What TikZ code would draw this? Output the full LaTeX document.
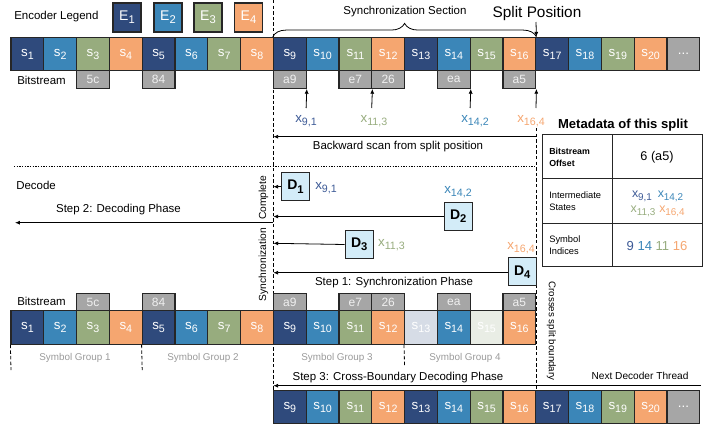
\documentclass[tikz,border=0pt]{standalone}
\usepackage{fontspec}
\usepackage{graphicx}
\setmainfont{Liberation Sans}
\usetikzlibrary{arrows.meta,decorations.pathreplacing}
\definecolor{c0}{HTML}{2F4A7C}
\definecolor{c1}{HTML}{3B86B8}
\definecolor{c2}{HTML}{97AC7E}
\definecolor{c3}{HTML}{F5A670}
\definecolor{cgray}{HTML}{A6A6A6}
\definecolor{cdfill}{HTML}{D3ECF8}
\definecolor{cxnavy}{HTML}{3D5A96}
\definecolor{cfade0}{HTML}{D6DCE6}
\definecolor{cfade2}{HTML}{E9EDE5}
\definecolor{cgrp}{HTML}{9A9A9A}
\newcommand{\sbx}[1]{\raisebox{-0.42ex}{\scalebox{0.8}{#1}}}
\begin{document}
\begin{tikzpicture}[x=0.75pt,y=-0.75pt,
  cell/.style={draw=black!85, line width=0.9pt, minimum width=24.6pt, minimum height=25pt, inner sep=0pt, text=white, font=\fontsize{10}{11}\selectfont},
  tag/.style={draw=black!85, line width=0.9pt, fill=cgray, minimum width=24.6pt, minimum height=13.2pt, inner sep=0pt, text=white!94!black, font=\fontsize{9}{10}\selectfont},
  leg/.style={draw=black!85, line width=0.9pt, minimum width=21pt, minimum height=21.75pt, inner sep=0pt, text=white, font=\fontsize{10.5}{11}\selectfont},
  dbox/.style={draw=black!85, line width=0.9pt, fill=cdfill, minimum size=21pt, inner sep=0pt, font=\bfseries\fontsize{10.5}{11}\selectfont},
  lbl/.style={inner sep=0pt, font=\fontsize{8.6}{10}\selectfont},
  xl/.style={inner sep=0pt, font=\fontsize{10}{11}\selectfont},
  grp/.style={inner sep=0pt, text=cgrp, font=\fontsize{7.4}{9}\selectfont},
  tbl/.style={inner sep=0pt, align=left, font=\fontsize{7}{9}\selectfont},
  arr/.style={-{Latex[length=3.6pt,width=3pt]}, line width=0.6pt},
  vdash/.style={line width=0.6pt, dash pattern=on 2.6pt off 1.6pt},
  hdot/.style={line width=0.6pt, dash pattern=on 1pt off 1pt}
]
\useasboundingbox (0,0) rectangle (706,425);

% long dashed lines (drawn first, under the cells)
\coordinate (vl1) at (273.3,0);
\coordinate (vl2) at (273.3,390.7);
\draw[vdash] (vl1) -- (vl2);
\coordinate (vs1) at (536,128);
\coordinate (vs2) at (536,390.7);
\draw[vdash] (vs1) -- (vs2);
\coordinate (hl1) at (14,166.7);
\coordinate (hl2) at (536,166.7);
\draw[hdot] (hl1) -- (hl2);

% legend
\node[lbl, anchor=west] (encleg) at (14,17) {Encoder Legend};
\node[leg, fill=c0] (E1) at (127,17.5) {E\sbx{1}};
\node[leg, fill=c1] (E2) at (168,17.5) {E\sbx{2}};
\node[leg, fill=c2] (E3) at (208,17.5) {E\sbx{3}};
\node[leg, fill=c3] (E4) at (248.5,17.5) {E\sbx{4}};

% top row
\foreach \i in {1,...,20}{
  \pgfmathsetmacro{\cx}{11+(\i-0.5)*32.8}
  \pgfmathtruncatemacro{\m}{mod(\i-1,4)}
  \node[cell, fill=c\m] (t\i) at (\cx,54) {s\sbx{\i}};
}
\node[cell, fill=cgray] (t21) at ({11+20.5*32.8},54) {...};

\node[lbl, anchor=west] (bst) at (17,80) {Bitstream};
\foreach \i/\t in {3/5c,5/84,9/a9,11/e7,12/26,14/ea,16/a5}
  \node[tag] (tt\i) at ({11+(\i-0.5)*32.8},79.5) {\t};

% brace and split
\draw[decorate, decoration={brace, amplitude=10pt, aspect=0.5}, line width=0.6pt] (t9.north west) -- (t16.north east);
\node[lbl] (syncsec) at (405,12) {Synchronization Section};
\node[inner sep=0pt, font=\fontsize{11.5}{13}\selectfont] (split) at (537,14) {Split Position};
\coordinate (sp) at (536,22);
\draw[arr] (sp) -- (t16.north east);

% up arrows
\coordinate (u1) at (306.1,108);
\coordinate (u2) at (371.7,108);
\coordinate (u3) at (470.1,108);
\coordinate (u4) at (536,108);
\draw[arr] (u1) -- (tt9.south east);
\draw[arr] (u2) -- (tt11.south east);
\draw[arr] (u3) -- (tt14.south east);
\draw[arr] (u4) -- (tt16.south east);
\node[xl, text=cxnavy] (x91) at (306,121) {x\sbx{9,1}};
\node[xl, text=c2] (x113) at (374,121) {x\sbx{11,3}};
\node[xl, text=c1] (x142) at (475,121) {x\sbx{14,2}};
\node[xl, text=c3] (x164) at (531,121) {x\sbx{16,4}};

% backward scan
\coordinate (bs1) at (536,136.7);
\coordinate (bs2) at (273.3,136.7);
\draw[arr] (bs1) -- (bs2);
\node[lbl] (bscan) at (398,147) {Backward scan from split position};

% decode section
\node[lbl, anchor=west] (decode) at (16,185) {Decode};
\node[dbox] (D1) at (295.5,186.7) {D\sbx{1}};
\node[dbox] (D2) at (458.2,216.5) {D\sbx{2}};
\node[dbox] (D3) at (359.3,244.5) {D\sbx{3}};
\node[dbox] (D4) at (522.2,271.8) {D\sbx{4}};
\coordinate (e1) at (273.3,186.7);
\coordinate (e2) at (273.3,216.5);
\coordinate (e3) at (273.3,243.3);
\coordinate (e4) at (273.3,272.7);
\draw[arr] (D1.west) -- (e1);
\draw[arr] (D2.west) -- (e2);
\draw[arr] (D3.west) -- (e3);
\draw[arr] (D4.west |- e4) -- (e4);
\node[xl, text=cxnavy] (dx91) at (326,188) {x\sbx{9,1}};
\node[xl, text=c1] (dx142) at (458,192.5) {x\sbx{14,2}};
\node[xl, text=c2] (dx113) at (391.5,245) {x\sbx{11,3}};
\node[xl, text=c3] (dx164) at (521,248) {x\sbx{16,4}};
\node[lbl] (step1) at (394,282.7) {Step 1: Synchronization Phase};

\node[lbl] (step2) at (118.5,210) {Step 2: Decoding Phase};
\coordinate (s2a) at (273.3,222.7);
\coordinate (s2b) at (15,222.7);
\draw[arr] (s2a) -- (s2b);
\node[inner sep=0pt, rotate=90, font=\fontsize{7.7}{9}\selectfont] (synccomp) at (263.5,238.5) {Synchronization\hspace{6pt}Complete};

% metadata table
\node[inner sep=0pt, font=\bfseries\fontsize{9.8}{11}\selectfont] (mtitle) at (623,125) {Metadata of this split};
\draw[line width=0.9pt, draw=black!85] (542.7,134.3) rectangle (702.3,266.7);
\draw[line width=0.9pt, draw=black!85] (612.3,134.3) -- (612.3,266.7);
\draw[line width=0.9pt, draw=black!85] (542.7,178.7) -- (702.3,178.7);
\draw[line width=0.9pt, draw=black!85] (542.7,223.3) -- (702.3,223.3);
\node[tbl, anchor=west, font=\bfseries\fontsize{6.6}{8.6}\selectfont] (toff) at (549,157.5) {Bitstream\\Offset};
\node[inner sep=0pt, font=\fontsize{9.5}{11}\selectfont] (voff) at (657,157) {6 (a5)};
\node[tbl, anchor=west] (tstate) at (549,201.5) {Intermediate\\States};
\node[xl, text=cxnavy, font=\fontsize{9.3}{10}\selectfont] (m91) at (642,196.5) {x\sbx{9,1}};
\node[xl, text=c1, font=\fontsize{9.3}{10}\selectfont] (m142) at (670.5,196.5) {x\sbx{14,2}};
\node[xl, text=c2, font=\fontsize{9.3}{10}\selectfont] (m113) at (643,211) {x\sbx{11,3}};
\node[xl, text=c3, font=\fontsize{9.3}{10}\selectfont] (m164) at (672,211) {x\sbx{16,4}};
\node[tbl, anchor=west] (tsym) at (549,245.5) {Symbol\\Indices};
\node[inner sep=0pt, font=\fontsize{9.8}{11}\selectfont] (vsym) at (657,245.5) {\textcolor{cxnavy}{9} \textcolor{c1}{14} \textcolor{c2}{11} \textcolor{c3}{16}};

% bottom bitstream
\node[lbl, anchor=west] (bst2) at (17,301.7) {Bitstream};
\foreach \i/\t in {3/5c,5/84,9/a9,11/e7,12/26,14/ea,16/a5}
  \node[tag] (bt\i) at ({11+(\i-0.5)*32.8},302.2) {\t};
\foreach \i in {1,...,12,14,16}{
  \pgfmathsetmacro{\cx}{11+(\i-0.5)*32.8}
  \pgfmathtruncatemacro{\m}{mod(\i-1,4)}
  \node[cell, fill=c\m] (b\i) at (\cx,327.5) {s\sbx{\i}};
}
\node[cell, fill=cfade0] (b13) at ({11+12.5*32.8},327.5) {s\sbx{13}};
\node[cell, fill=cfade2] (b15) at ({11+14.5*32.8},327.5) {s\sbx{15}};

% group separators
\coordinate (g1) at (11,370);
\coordinate (g2) at (142.2,370);
\coordinate (g4) at (404.6,367);
\draw[vdash] (b1.south west) -- (g1);
\draw[vdash] (b5.south west) -- (g2);
\draw[vdash] (b13.south west) -- (g4);
\node[grp] (grp1) at (75,358) {Symbol Group 1};
\node[grp] (grp2) at (203,358) {Symbol Group 2};
\node[grp] (grp3) at (337,358) {Symbol Group 3};
\node[grp] (grp4) at (465,358) {Symbol Group 4};

\node[inner sep=0pt, rotate=-90, font=\fontsize{7.3}{9}\selectfont] (cross) at (551.5,331) {Crosses split boundary};

% step 3
\node[lbl] (step3) at (398,377.3) {Step 3: Cross-Boundary Decoding Phase};
\node[inner sep=0pt, font=\fontsize{7.6}{9}\selectfont] (next) at (640,376) {Next Decoder Thread};
\coordinate (s3a) at (701,385.7);
\coordinate (s3b) at (273.3,385.7);
\draw[arr] (s3a) -- (s3b);

% bottom row 2
\foreach \i in {9,...,20}{
  \pgfmathsetmacro{\cx}{11+(\i-0.5)*32.8}
  \pgfmathtruncatemacro{\m}{mod(\i-1,4)}
  \node[cell, fill=c\m] (n\i) at (\cx,407) {s\sbx{\i}};
}
\node[cell, fill=cgray] (n21) at ({11+20.5*32.8},407) {...};
\end{tikzpicture}
\end{document}
